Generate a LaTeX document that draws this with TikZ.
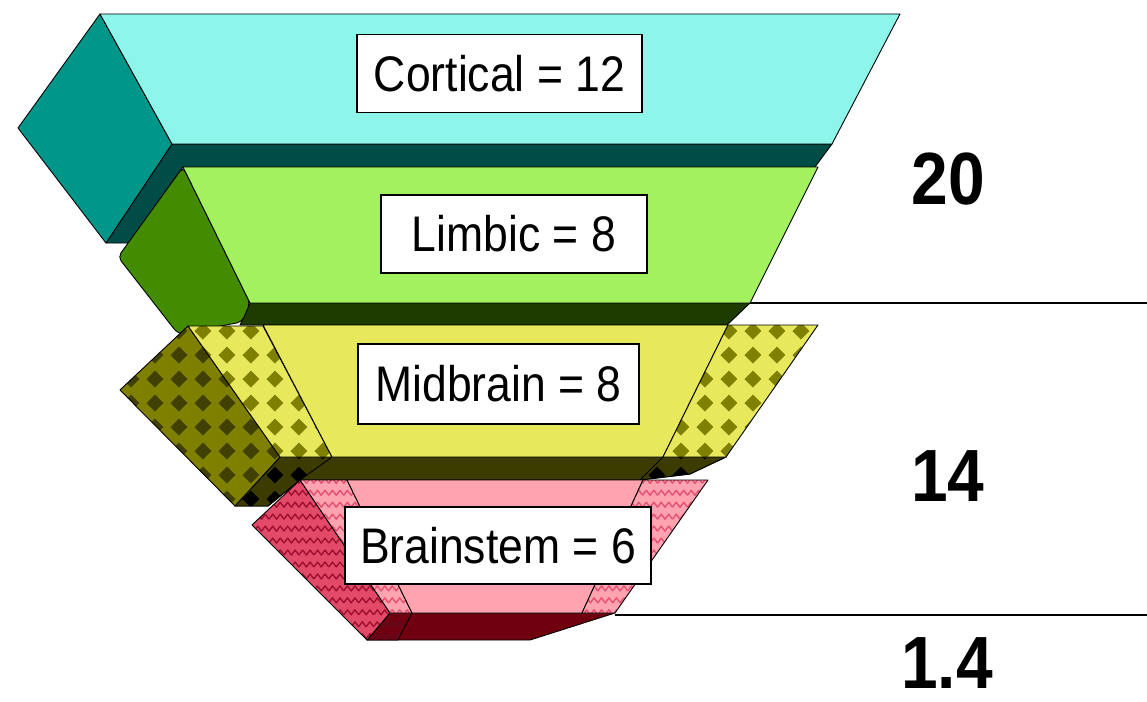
\documentclass[tikz,border=0pt]{standalone}
\usepackage{fontspec}
\setmainfont{Liberation Sans}[FakeStretch=0.89]
\usetikzlibrary{patterns}

% square grid of diamonds
\pgfdeclarepatternformonly{diamondlattice}{\pgfqpoint{0pt}{0pt}}{\pgfqpoint{24pt}{24pt}}{\pgfqpoint{24pt}{24pt}}{%
  \pgfpathmoveto{\pgfqpoint{12pt}{3.5pt}}\pgfpathlineto{\pgfqpoint{20.5pt}{12pt}}%
  \pgfpathlineto{\pgfqpoint{12pt}{20.5pt}}\pgfpathlineto{\pgfqpoint{3.5pt}{12pt}}\pgfpathclose
  \pgfusepath{fill}}

% horizontal zig-zag lines
\pgfdeclarepatternformonly{wavelines}{\pgfqpoint{-1pt}{-1pt}}{\pgfqpoint{16pt}{13pt}}{\pgfqpoint{15pt}{12pt}}{%
  \pgfsetlinewidth{1.4pt}%
  \pgfpathmoveto{\pgfqpoint{0pt}{3.5pt}}\pgfpathlineto{\pgfqpoint{3.75pt}{8.5pt}}%
  \pgfpathlineto{\pgfqpoint{7.5pt}{3.5pt}}\pgfpathlineto{\pgfqpoint{11.25pt}{8.5pt}}%
  \pgfpathlineto{\pgfqpoint{15pt}{3.5pt}}%
  \pgfusepath{stroke}}

\definecolor{cyanfront}{HTML}{8EF5EB}
\definecolor{tealside}{HTML}{00978A}
\definecolor{tealbottom}{HTML}{004D48}
\definecolor{limefront}{HTML}{A2F260}
\definecolor{greenside}{HTML}{438C00}
\definecolor{greenbottom}{HTML}{1E3C00}
\definecolor{yellowfront}{HTML}{E8E85C}
\definecolor{olivemid}{HTML}{7F7F00}
\definecolor{olivedark}{HTML}{404000}
\definecolor{olivebottom}{HTML}{3C3C00}
\definecolor{pinkfront}{HTML}{FFA3B1}
\definecolor{pinkwave}{HTML}{E65070}
\definecolor{redside}{HTML}{E24A68}
\definecolor{redwave}{HTML}{9E1030}
\definecolor{maroon}{HTML}{700010}

\tikzset{
  face/.style={draw=black, line width=0.9bp, line join=round},
  patface/.style n args={3}{face, preaction={fill=#1}, pattern=#2, pattern color=#3},
  labelbox/.style={draw=black, fill=white, line width=1.5bp, inner sep=0pt,
    minimum height=78bp, font=\fontsize{50bp}{55bp}\selectfont},
  sumlabel/.style={inner sep=0pt, font=\fontsize{74bp}{80bp}\selectfont\bfseries},
  rule/.style={draw=black, line width=1.5bp}
}

\begin{document}
\begin{tikzpicture}[x=1bp, y=-1bp]
\useasboundingbox (0,0) rectangle (1147,702);

% cortical slab
\path[face, fill=tealbottom] (106,243) -- (172,144) -- (832,144) -- (815,167) -- (183,167) -- (129,243) -- cycle;
\path[face, fill=tealside] (100,14) -- (18,128) -- (106,243) -- (172,144) -- cycle;
\path[face, fill=cyanfront] (100,14) -- (900,14) -- (832,144) -- (172,144) -- cycle;

% limbic slab
\path[face, fill=greenbottom] (250,303) -- (750,303) -- (727,325) -- (240,325) -- cycle;
\path[face, fill=greenside, rounded corners=5bp] (183,167) -- (118,257) -- (178,334) -- (242,322) -- (250,303) -- cycle;
\path[face, fill=limefront] (183,167) -- (818,167) -- (750,303) -- (250,303) -- cycle;

% midbrain slab
\path[face, fill=olivebottom] (235,506) -- (280,457) -- (726,457) -- (690,474) -- (640,480) -- (300,480) -- (268,506) -- cycle;
\path[patface={olivebottom}{diamondlattice}{black}] (235,506) -- (280,457) -- (332,457) -- (300,480) -- (268,506) -- cycle;
\path[patface={olivebottom}{diamondlattice}{black}] (663,457) -- (726,457) -- (690,474) -- (640,480) -- cycle;
\path[patface={olivemid}{diamondlattice}{olivedark}] (188,326) -- (120,390) -- (235,506) -- (280,457) -- cycle;
\path[patface={yellowfront}{diamondlattice}{olivemid}] (188,326) -- (263,326) -- (332,457) -- (280,457) -- cycle;
\path[face, fill=yellowfront] (263,325) -- (728,325) -- (663,457) -- (332,457) -- cycle;
\path[patface={yellowfront}{diamondlattice}{olivemid}] (728,325) -- (818,325) -- (726,457) -- (663,457) -- cycle;

% brainstem slab
\path[face, fill=maroon] (367,640) -- (390,613) -- (615,613) -- (530,640) -- cycle;
\path[patface={maroon}{wavelines}{redwave!60!black}] (367,640) -- (390,613) -- (412,613) -- (398,640) -- cycle;
\path[patface={redside}{wavelines}{redwave}] (300,480) -- (252,525) -- (367,640) -- (390,613) -- cycle;
\path[patface={pinkfront}{wavelines}{pinkwave}] (300,480) -- (347,480) -- (412,613) -- (390,613) -- cycle;
\path[face, fill=pinkfront] (347,480) -- (643,480) -- (582,613) -- (412,613) -- cycle;
\path[patface={pinkfront}{wavelines}{pinkwave}] (643,480) -- (708,480) -- (615,613) -- (582,613) -- cycle;

% layer labels
\node[labelbox, minimum width=285bp] (cortical) at (499.5,73.5) {Cortical = 12};
\node[labelbox, minimum width=266bp] (limbic) at (514,234) {Limbic = 8};
\node[labelbox, minimum width=281bp, minimum height=80bp] (midbrain) at (498.5,384) {Midbrain = 8};
\node[labelbox, minimum width=306bp, minimum height=77bp] (brainstem) at (498,545.5) {Brainstem = 6};

% dividing rules on the right
\coordinate (upperstart) at (750,303);
\coordinate (upperend) at (1147,303);
\coordinate (lowerstart) at (615,615);
\coordinate (lowerend) at (1147,615);
\draw[rule] (upperstart) -- (upperend);
\draw[rule] (lowerstart) -- (lowerend);

% totals
\node[sumlabel] (sumtop) at (948.5,179) {20};
\node[sumlabel] (summid) at (948,476) {14};
\node[sumlabel] (sumlow) at (947,663) {1.4};
\end{tikzpicture}
\end{document}
